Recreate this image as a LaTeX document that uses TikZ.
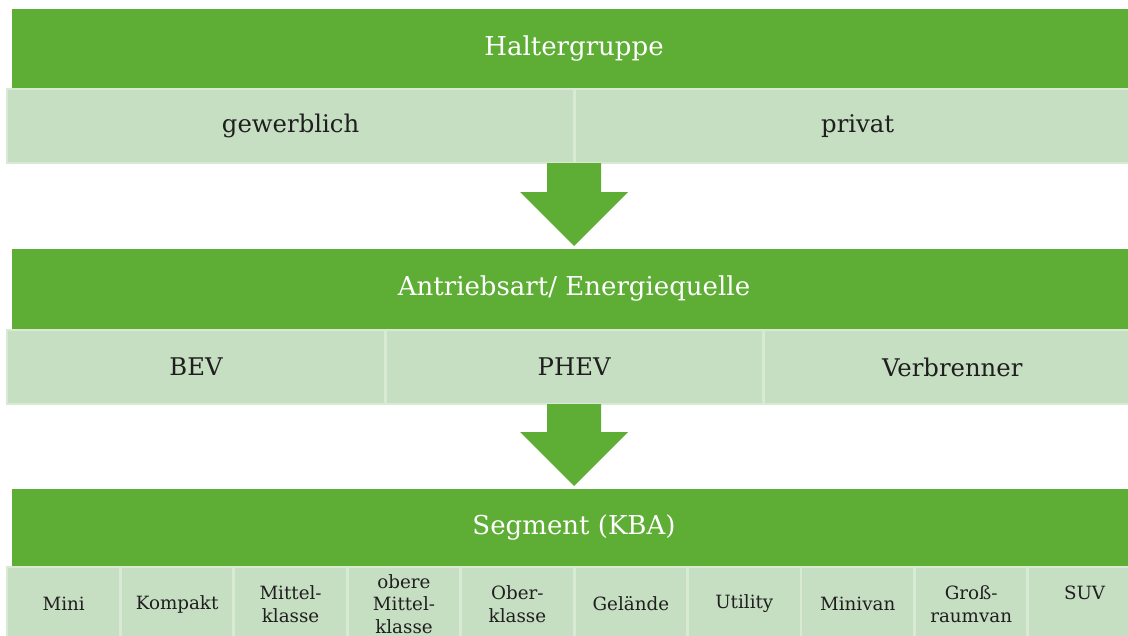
\documentclass[tikz,border=0pt]{standalone}
\usepackage{fontspec}
\setmainfont{DejaVu Serif}
\usetikzlibrary{positioning,calc}
\definecolor{leafgreen}{RGB}{94,173,53}
\definecolor{palegreen}{RGB}{198,222,193}
\definecolor{paleedge}{RGB}{216,234,212}

\begin{document}
\begin{tikzpicture}[
  x=0.025cm, y=-0.025cm,
  bar/.style={fill=leafgreen, text=white, inner sep=0pt, outer sep=0pt, minimum width=28.1cm, font=\fontsize{18.5}{21}\selectfont},
  cell/.style={fill=palegreen, draw=paleedge, line width=2pt, inner sep=0pt, outer sep=0pt, minimum height=1.85cm, align=center, text=black!88, font=\fontsize{17.3}{20}\selectfont},
  small/.style={cell, minimum width=2.835cm, font=\fontsize{13}{16}\selectfont},
  blockarrow/.style={fill=leafgreen}
]
\useasboundingbox (0,0) rectangle (1128,636);
\clip (0,0) rectangle (1128,636);

% level 1
\node[bar, minimum height=2cm] (holder) at (574,49) {Haltergruppe};
\node[cell, minimum width=14.175cm, anchor=north west] (gew) at (7,89) {\raisebox{-1.5pt}{gewerblich}};
\node[cell, minimum width=14.175cm, right=0pt of gew] (priv) {\raisebox{-1.5pt}{privat}};

% level 2
\node[bar, minimum height=2cm] (drive) at (574,289) {Antriebsart/ Energiequelle};
\node[cell, minimum width=9.45cm, anchor=north west] (bev) at (7,330) {BEV};
\node[cell, minimum width=9.45cm, right=0pt of bev] (phev) {PHEV};
\node[cell, minimum width=9.45cm, right=0pt of phev] (verb) {Verbrenner};

% level 3
\node[bar, minimum height=1.95cm] (segment) at (574,528) {Segment (KBA)};
\node[small, anchor=north west] (mini) at (7,567) {Mini};
\node[small, right=0pt of mini] (kompakt) {Kompakt};
\node[small, right=0pt of kompakt] (mittel) {Mittel-\\klasse};
\node[small, right=0pt of mittel] (obmittel) {obere\\Mittel-\\klasse};
\node[small, right=0pt of obmittel] (ober) {Ober-\\klasse};
\node[small, right=0pt of ober] (gelaende) {Gelände};
\node[small, right=0pt of gelaende] (utility) {Utility};
\node[small, right=0pt of utility] (minivan) {Minivan};
\node[small, right=0pt of minivan] (gross) {Groß-\\raumvan};
\node[small, right=0pt of gross] (suv) {SUV\\\mbox{}};

% block arrows
\fill[blockarrow] ($(gew.south east)+(-27,0)$) -- ++(54,0) -- ++(0,29) -- ++(27,0)
  -- ($(drive.north)+(0,-3)$) -- ($(gew.south east)+(-54,29)$) -- ++(27,0) -- cycle;
\fill[blockarrow] ($(bev.south east)!0.5!(verb.south west)+(-27,0)$) -- ++(54,0) -- ++(0,28) -- ++(27,0)
  -- ($(segment.north)+(0,-3)$) -- ($(bev.south east)!0.5!(verb.south west)+(-54,28)$) -- ++(27,0) -- cycle;
\end{tikzpicture}
\end{document}
